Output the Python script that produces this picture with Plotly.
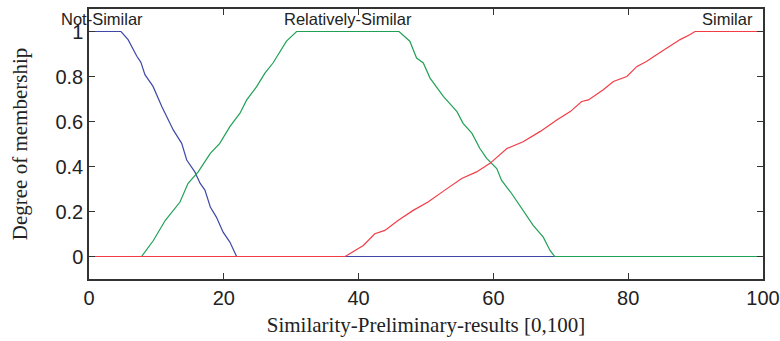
import plotly.graph_objects as go

# Membership functions
ns_x = [0, 4.75, 5.8, 7.1, 7.7, 8.3, 9.5, 10.8, 12.5, 13.75, 14.5, 15.7, 16.5, 17.2, 18.0, 18.9, 19.9, 20.9, 21.9, 100]
ns_y = [1, 1, 0.964, 0.89, 0.863, 0.808, 0.756, 0.667, 0.5625, 0.503, 0.429, 0.376, 0.325, 0.295, 0.22, 0.175, 0.108, 0.064, 0, 0]

rs_x = [0, 7.8, 9.55, 11.3, 13.5, 14.7, 16.2, 18.0, 19.4, 20.9, 22.4, 23.4, 24.9, 26.1, 27.3, 29.3, 30.8,
        46.0, 47.6, 48.6, 49.6, 50.6, 52.6, 54.6, 55.5, 56.8, 58.0, 59.0, 60.5, 61.2, 62.7, 64.4, 65.9, 67.4, 68.4, 69.1, 100]
rs_y = [0, 0, 0.071, 0.16, 0.242, 0.325, 0.376, 0.458, 0.503, 0.577, 0.637, 0.696, 0.756, 0.815, 0.86, 0.957, 1.0,
        1.0, 0.957, 0.882, 0.86, 0.793, 0.711, 0.644, 0.592, 0.548, 0.48, 0.436, 0.391, 0.339, 0.28, 0.205, 0.138, 0.086, 0.027, 0, 0]

s_x = [0, 38.0, 40.7, 42.4, 43.9, 45.9, 48.1, 50.3, 52.8, 55.3, 57.5, 59.5, 62.0, 64.4, 66.9, 69.4, 71.4, 73.1, 74.1,
       76.3, 77.8, 79.8, 81.3, 82.7, 84.2, 86.2, 87.7, 89.2, 89.9, 100]
s_y = [0, 0, 0.049, 0.101, 0.116, 0.161, 0.205, 0.242, 0.295, 0.347, 0.376, 0.414, 0.48, 0.51, 0.555, 0.607, 0.644, 0.689, 0.696,
       0.741, 0.778, 0.80, 0.845, 0.867, 0.897, 0.934, 0.964, 0.987, 1.0, 1.0]

mf_names = ["Not-Similar", "Relatively-Similar", "Similar"]
label_x = [2.0, 38.5, 94.8]
label_y = 1.054

x_ticks = [0, 20, 40, 60, 80, 100]
y_ticks = [0, 0.2, 0.4, 0.6, 0.8, 1]
y_ticktext = ["0", "0.2", "0.4", "0.6", "0.8", "1"]

colors = ["#3f48a8", "#20a055", "#f23c46"]

fig = go.Figure()
for xs, ys, c, n in zip([ns_x, rs_x, s_x], [ns_y, rs_y, s_y], colors, mf_names):
    fig.add_trace(go.Scatter(x=xs, y=ys, mode="lines", line=dict(color=c, width=1.2), name=n, showlegend=False))

for n, lx in zip(mf_names, label_x):
    fig.add_annotation(x=lx, y=label_y, text=n, showarrow=False, xanchor="center", yanchor="middle",
                       font=dict(family="Liberation Sans, Arial, sans-serif", size=16.5, color="#222"))

axis_common = dict(showline=True, linecolor="#333", linewidth=1.5, mirror="ticks", ticks="inside",
                   ticklen=6, tickcolor="#333", tickwidth=1, showgrid=False, zeroline=False, automargin=False,
                   tickfont=dict(family="Liberation Sans, Arial, sans-serif", size=20, color="#222"))

fig.update_xaxes(range=[0, 100], tickvals=x_ticks, ticktext=[str(v) for v in x_ticks],
                 title=dict(text="Similarity-Preliminary-results [0,100]", standoff=10,
                            font=dict(family="Liberation Serif, Times New Roman, serif", size=21, color="#222")),
                 **axis_common)
fig.update_yaxes(range=[-0.1, 1.1], tickvals=y_ticks, ticktext=y_ticktext,
                 title=dict(text="Degree of membership", standoff=22,
                            font=dict(family="Liberation Serif, Times New Roman, serif", size=21, color="#222")),
                 **axis_common)

fig.update_layout(width=780, height=341, margin=dict(l=89, r=17, t=9, b=62),
                  plot_bgcolor="white", paper_bgcolor="white")

fig.write_html("out.html")
